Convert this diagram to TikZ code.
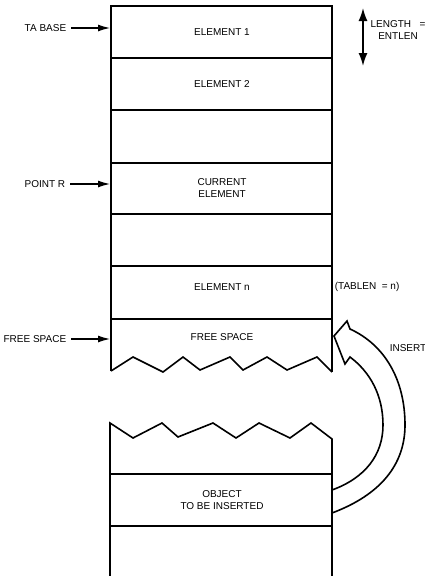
\documentclass[tikz,border=0pt]{standalone}
\usepackage{fontspec}
\setmainfont{Liberation Sans}
\usetikzlibrary{arrows.meta}

\begin{document}
\begin{tikzpicture}[x=1pt,y=-1pt,line width=1.6pt,
    lbl/.style={font=\fontsize{10}{11.5}\selectfont,inner sep=1pt},
    ptr/.style={-{Latex[length=12pt,width=7pt]},line width=1.2pt,shorten <=3pt}]
        \useasboundingbox (0,0) rectangle (425,576);
        % upper table of elements
        \draw (111,371) -- (111,6) -- (332,6) -- (332,372);
        \foreach \y in {58,110,163,214,266,319}
          \draw (111,\y) -- (332,\y);
        % torn bottom edge
        \draw (111,371) -- (133,357) -- (163,372) -- (183,357) -- (200,370) -- (230,357)
          -- (243,370) -- (267,357) -- (287,370) -- (317,357) -- (332,372);
        % lower table, torn top edge
        \draw (110,576) -- (110,423) -- (133,438) -- (162,423) -- (178,437) -- (213,423)
          -- (236,438) -- (259,423) -- (290,438) -- (311,423) -- (332,439) -- (332,576);
        \draw (110,474) -- (332,474);
        \draw (110,526) -- (332,526);

        % row texts
        \node[lbl] (elem1) at (222,32) {ELEMENT 1};
        \node[lbl] (elem2) at (222,84) {ELEMENT 2};
        \node[lbl,align=center] (curr) at (222,188) {CURRENT\\ELEMENT};
        \node[lbl] (elemn) at (222,287) {ELEMENT n};
        \node[lbl] (free) at (222,337) {FREE SPACE};
        \node[lbl,align=center] (obj) at (222,500) {OBJECT\\TO BE INSERTED};

        % pointers on the left
        \coordinate (leftedge) at (110,0);
        \node[lbl,anchor=east] (tabase) at (68,28) {TA BASE};
        \node[lbl,anchor=east] (pointr) at (67,184) {POINT R};
        \node[lbl,anchor=east] (freesp) at (68,339) {FREE SPACE};
        \draw[ptr] (tabase) -- (tabase -| leftedge);
        \draw[ptr] (pointr) -- (pointr -| leftedge);
        \draw[ptr] (freesp) -- (freesp -| leftedge);

        % length of one element
        \coordinate (lenA) at (363,8);
        \coordinate (lenB) at (363,66);
        \draw[line width=1.6pt,{Latex[length=13pt,width=9pt]}-{Latex[length=13pt,width=9pt]}] (lenA) -- (lenB);
        \node[lbl,align=center] (len) at (398,30) {LENGTH\ \ \ =\\ENTLEN};
        \node[lbl,anchor=west] (tablen) at (333,287) {(TABLEN\ \ = n)};
        \node[lbl] (insert) at (408,348) {INSERT};

        % hollow insert arrow
        \draw[line join=miter] (332,513) .. controls (380,495) and (405,465) .. (405,425)
          .. controls (405,380) and (385,345) .. (350,329) -- (347,321) -- (334,336)
          -- (345,364) -- (350,357) .. controls (370,372) and (383,395) .. (383,425)
          .. controls (383,455) and (365,478) .. (332,490);
      \end{tikzpicture}
\end{document}
